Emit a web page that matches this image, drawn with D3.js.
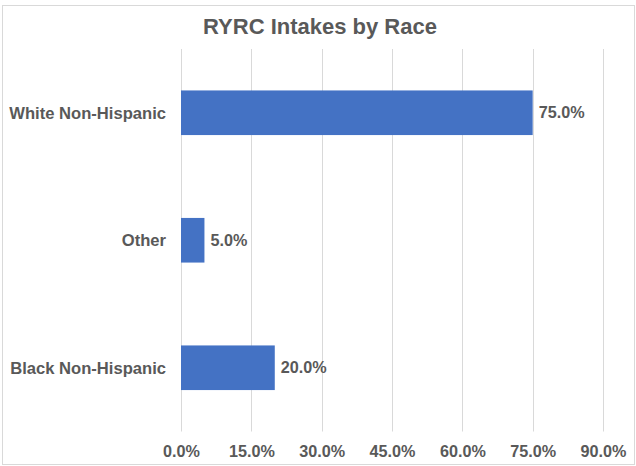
<!DOCTYPE html>
<html>
<head>
<meta charset="utf-8">
<script src="https://cdn.jsdelivr.net/npm/d3@7"></script>
<style>
  html, body { margin: 0; padding: 0; background: #fff; }
  svg { display: block; }
  text { font-family: "Liberation Sans", Arial, sans-serif; font-weight: bold; fill: #595959; }
</style>
</head>
<body>
<svg id="chart" width="636" height="466"></svg>
<script>
const title = "RYRC Intakes by Race";
const categories = ["White Non-Hispanic", "Other", "Black Non-Hispanic"];
const values = [75.0, 5.0, 20.0];
const tickValues = [0, 15, 30, 45, 60, 75, 90];

const svg = d3.select("#chart");

// outer border
svg.append("rect")
  .attr("x", 2.5).attr("y", 5.5)
  .attr("width", 632).attr("height", 459)
  .attr("fill", "#fff")
  .attr("stroke", "#d9d9d9").attr("stroke-width", 1);

const m = { left: 181, right: 603, top: 49, bottom: 431.5 };

const x = d3.scaleLinear().domain([0, 90]).range([m.left, m.right]);
const y = d3.scaleBand().domain(categories).range([m.top, m.bottom]).paddingInner(0.65).paddingOuter(0.325);

// title
svg.append("text")
  .attr("x", 320).attr("y", 33.5)
  .attr("text-anchor", "middle")
  .style("font-size", "22px")
  .text(title);

// gridlines
svg.append("g").selectAll("line")
  .data(tickValues)
  .join("line")
  .attr("x1", d => Math.round(x(d)) + 0.5)
  .attr("x2", d => Math.round(x(d)) + 0.5)
  .attr("y1", m.top).attr("y2", m.bottom)
  .attr("stroke", "#d9d9d9").attr("stroke-width", 1);

// x axis tick labels
const xAxis = d3.axisBottom(x).tickValues(tickValues).tickSize(0).tickPadding(0)
  .tickFormat(d => d.toFixed(1) + "%");
const gx = svg.append("g").attr("transform", `translate(0,${m.bottom})`).call(xAxis);
gx.select(".domain").remove();
gx.selectAll("text")
  .attr("y", 25.5).attr("dy", null)
  .style("font-size", "16.2px")
  .style("font-family", "'Liberation Sans', Arial, sans-serif")
  .style("font-weight", "bold")
  .attr("fill", "#595959");

// y axis labels
const yAxis = d3.axisLeft(y).tickSize(0).tickPadding(15);
const gy = svg.append("g").attr("transform", `translate(${m.left},0)`).call(yAxis);
gy.select(".domain").remove();
gy.selectAll("text")
  .attr("dy", "0.35em")
  .style("font-size", "16.6px")
  .style("font-family", "'Liberation Sans', Arial, sans-serif")
  .style("font-weight", "bold")
  .attr("fill", "#595959");

// bars
const data = categories.map((c, i) => ({ c, v: values[i] }));
svg.append("g").selectAll("rect")
  .data(data)
  .join("rect")
  .attr("x", x(0))
  .attr("y", d => y(d.c))
  .attr("width", d => x(d.v) - x(0))
  .attr("height", y.bandwidth())
  .attr("fill", "#4472C4");

// value labels
svg.append("g").selectAll("text")
  .data(data)
  .join("text")
  .attr("x", d => x(d.v) + 6)
  .attr("y", d => y(d.c) + y.bandwidth() / 2)
  .attr("dy", "0.35em")
  .style("font-size", "16.2px")
  .text(d => d.v.toFixed(1) + "%");
</script>
</body>
</html>
